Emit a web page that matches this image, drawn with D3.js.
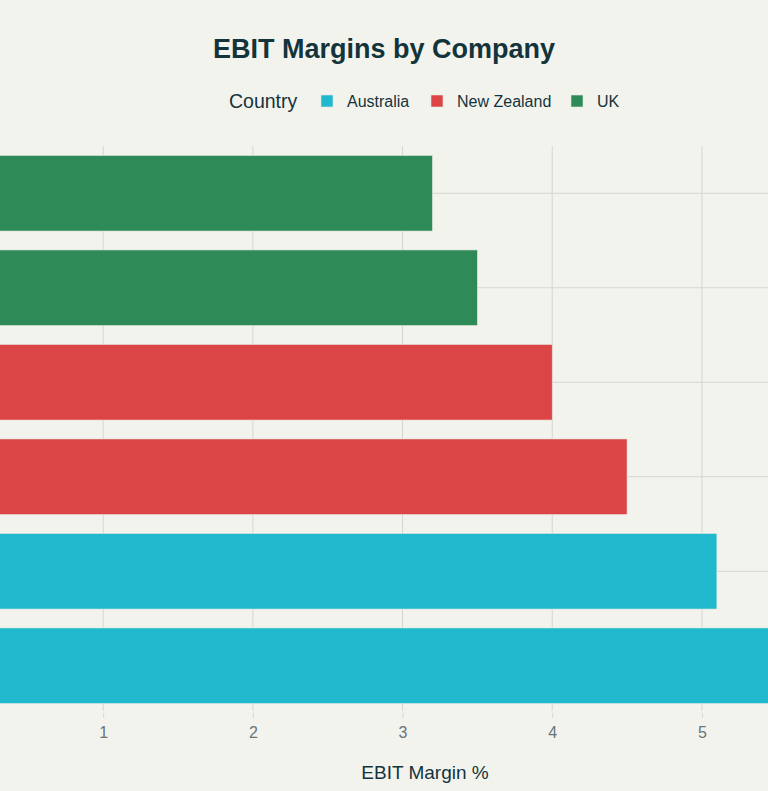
<!DOCTYPE html>
<html>
<head>
<meta charset="utf-8">
<script src="https://cdn.jsdelivr.net/npm/d3@7"></script>
<style>
  html, body { margin: 0; padding: 0; background: #F3F3EE; overflow: hidden; }
  svg { display: block; font-family: "Liberation Sans", Arial, sans-serif; }
</style>
</head>
<body>
<div class="chart"></div>
<script>
// values, top bar first
var companies = ["UK Company B", "UK Company A", "NZ Company B", "NZ Company A", "Australia Company B", "Australia Company A"];
var countries = ["UK", "UK", "New Zealand", "New Zealand", "Australia", "Australia"];
var margins = [3.2, 3.5, 4.0, 4.5, 5.1, 6.0];

var legendCountries = ["Australia", "New Zealand", "UK"];
var countryColors = ["#1FB8CD", "#DB4545", "#2E8B57"];
var xTicks = [1, 2, 3, 4, 5];

const width = 768;
const height = 791;
// the plot area is wider than the window: company labels sit off the left edge
const plot = ({ left: -46.5, right: 896.5, top: 146, bottom: 713 });

var svg = d3.select(".chart").append("svg")
    .attr("width", width)
    .attr("height", height);

var data = companies.map((c, i) => ({ company: c, country: countries[i], value: margins[i] }));

var x = d3.scaleLinear()
    .domain([0, 6.3])
    .range([plot.left, plot.right]);

var y = d3.scaleBand()
    .domain(companies)
    .range([plot.top, plot.bottom])
    .paddingInner(0.2)
    .paddingOuter(0.1);

var color = d3.scaleOrdinal()
    .domain(legendCountries)
    .range(countryColors);

// vertical grid
svg.append("g")
    .selectAll("line")
    .data(xTicks)
    .join("line")
    .attr("x1", d => x(d)).attr("x2", d => x(d))
    .attr("y1", plot.top).attr("y2", plot.bottom - 2)
    .attr("stroke", "#d6d6d0")
    .attr("stroke-width", 1);

// horizontal category grid through bar centres
svg.append("g")
    .selectAll("line")
    .data(companies)
    .join("line")
    .attr("x1", plot.left).attr("x2", plot.right)
    .attr("y1", d => y(d) + y.bandwidth() / 2)
    .attr("y2", d => y(d) + y.bandwidth() / 2)
    .attr("stroke", "#d6d6d0")
    .attr("stroke-width", 1);

// bars
svg.append("g")
    .selectAll("rect")
    .data(data)
    .join("rect")
    .attr("x", x(0))
    .attr("y", d => y(d.company))
    .attr("width", d => x(d.value) - x(0))
    .attr("height", y.bandwidth())
    .attr("fill", d => color(d.country))
    .attr("stroke", "#e8e8e2")
    .attr("stroke-width", 0.6);

// x axis
var xAxis = d3.axisBottom(x)
    .tickValues(xTicks)
    .tickSize(5)
    .tickPadding(9)
    .tickFormat(d3.format("d"));

var gx = svg.append("g")
    .attr("transform", `translate(0, ${plot.bottom})`)
    .call(xAxis)
    .attr("font-size", null)
    .attr("font-family", null);

gx.select(".domain").remove();
gx.selectAll(".tick line").attr("stroke", "#d6d6d0");
gx.selectAll(".tick text")
    .style("fill", "#66757b")
    .style("font-size", "16px");

svg.append("text")
    .attr("x", (plot.left + plot.right) / 2)
    .attr("y", 779)
    .attr("text-anchor", "middle")
    .attr("fill", "#13343B")
    .style("font-size", "19px")
    .text("EBIT Margin %");

// title
svg.append("text")
    .attr("x", width / 2)
    .attr("y", 58)
    .attr("text-anchor", "middle")
    .attr("fill", "#13343B")
    .style("font-size", "27px")
    .attr("font-weight", "bold")
    .text("EBIT Margins by Company");

// legend
var legend = svg.append("g").attr("transform", "translate(229, 101)");

legend.append("text")
    .attr("x", 0)
    .attr("y", 6.5)
    .attr("fill", "#13343B")
    .style("font-size", "19.5px")
    .text("Country");

var legendX = [92, 202, 342];

var item = legend.selectAll(".item")
    .data(legendCountries)
    .join("g")
    .attr("class", "item")
    .attr("transform", (d, i) => `translate(${legendX[i]}, 0)`);

item.append("rect")
    .attr("x", 0).attr("y", -6)
    .attr("width", 12).attr("height", 12)
    .attr("fill", d => color(d))
    .attr("stroke", "#e8e8e2")
    .attr("stroke-width", 0.6);

item.append("text")
    .attr("x", 26)
    .attr("y", 5.5)
    .attr("fill", "#13343B")
    .style("font-size", "16px")
    .text(d => d);
</script>
</body>
</html>
